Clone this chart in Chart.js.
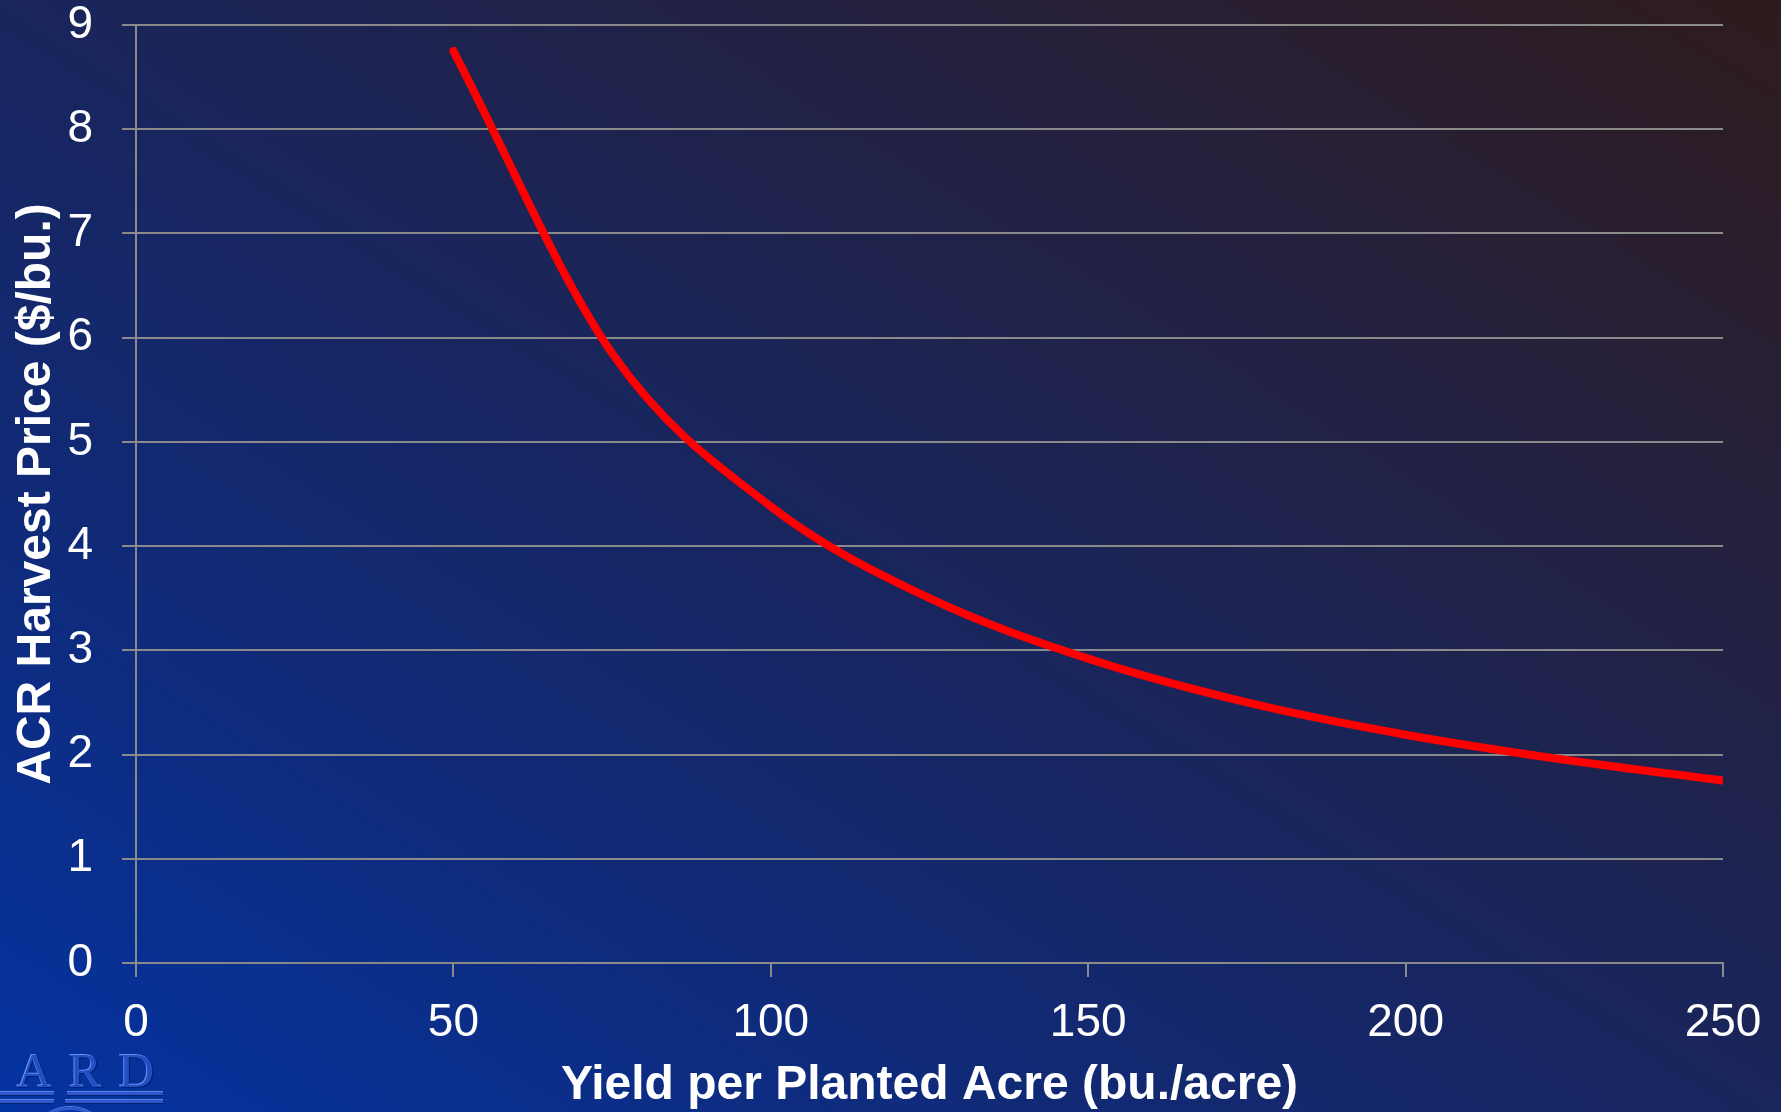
<!DOCTYPE html>
<html>
<head>
<meta charset="utf-8">
<title>ACR Harvest Price vs. Yield</title>
<script src="https://cdn.jsdelivr.net/npm/chart.js@4.4.1/dist/chart.umd.min.js"></script>
<style>
  html, body {
    margin: 0;
    padding: 0;
    width: 1781px;
    height: 1112px;
    overflow: hidden;
  }
  body {
    position: relative;
    background: linear-gradient(to top right, #0434a2 0%, #102a78 28%, #1b2456 55%, #26203a 78%, #2e1b1c 100%);
  }
  #chart {
    position: absolute;
    left: 0;
    top: 0;
  }
  /* embossed CARD mark in the lower-left corner */
  .mark {
    position: absolute;
    left: 0;
    top: 0;
    width: 0;
    height: 0;
  }
  .mark .word {
    position: absolute;
    left: -33px;
    top: 1046px;
    font-family: "Liberation Serif", "DejaVu Serif", serif;
    font-size: 49px;
    letter-spacing: 17px;
    line-height: 49px;
    white-space: nowrap;
    color: #2250c2;
    text-shadow: -1px -1px 0 #6a90ee, 1px 1px 1px #04206e;
  }
  .mark .bar {
    position: absolute;
    height: 3px;
    background: #2c58cc;
    box-shadow: 0 1px 1px #04206e, 0 -1px 0 #5c84e8;
  }
  .mark .arc {
    position: absolute;
    left: 28px;
    top: 1107px;
    width: 84px;
    height: 40px;
    border-top: 3px solid #2c58cc;
    border-radius: 42px 42px 0 0;
    box-shadow: 0 -1px 0 #5c84e8;
  }
</style>
</head>
<body>
<canvas id="chart" width="1781" height="1112"></canvas>
<div class="mark">
  <div class="word">CARD</div>
  <div class="bar" style="top:1092px; left:0; width:54px;"></div>
  <div class="bar" style="top:1092px; left:67px; width:96px;"></div>
  <div class="bar" style="top:1100px; left:0; width:54px;"></div>
  <div class="bar" style="top:1100px; left:65px; width:98px;"></div>
  <div class="arc"></div>
</div>
<script>
// Yield (bu./acre) and the ACR harvest price ($/bu.) at which a payment is triggered
const yields = [50, 75, 100, 125, 150, 175, 200, 225, 250];
const prices = [8.75, 5.85, 4.38, 3.50, 2.92, 2.50, 2.19, 1.95, 1.75];

const xTitle = 'Yield per Planted Acre (bu./acre)';
const yTitle = 'ACR Harvest Price ($/bu.)';

const FONT = '"Liberation Sans", Arial, Helvetica, sans-serif';
const AXIS_GREY = '#8a8a8a';

const points = yields.map((x, i) => ({ x: x, y: prices[i] }));

new Chart(document.getElementById('chart'), {
  type: 'line',
  data: {
    datasets: [{
      data: points,
      borderColor: '#ff0000',
      borderWidth: 8,
      borderCapStyle: 'round',
      borderJoinStyle: 'round',
      pointRadius: 0,
      fill: false,
      cubicInterpolationMode: 'monotone'
    }]
  },
  options: {
    responsive: false,
    animation: false,
    devicePixelRatio: 1,
    layout: { padding: { top: 25, right: 58, left: 0, bottom: 0 } },
    plugins: {
      legend: { display: false },
      tooltip: { enabled: false }
    },
    scales: {
      x: {
        type: 'linear',
        min: 0,
        max: 250,
        ticks: {
          stepSize: 50,
          color: '#ffffff',
          padding: 19,
          font: { family: FONT, size: 46 }
        },
        grid: {
          drawOnChartArea: false,
          drawTicks: true,
          tickLength: 14,
          color: AXIS_GREY,
          lineWidth: 2
        },
        border: { color: AXIS_GREY, width: 2 },
        title: {
          display: true,
          text: xTitle,
          color: '#ffffff',
          font: { family: FONT, size: 48, weight: 'bold', lineHeight: 1.0 },
          padding: { top: 0, bottom: 2 }
        },
        afterFit(scale) {
          scale.height = 149;
          scale.paddingRight = 0;
        }
      },
      y: {
        min: 0,
        max: 9,
        ticks: {
          stepSize: 1,
          color: '#ffffff',
          padding: 29,
          font: { family: FONT, size: 46 }
        },
        grid: {
          drawTicks: true,
          tickLength: 14,
          color: AXIS_GREY,
          lineWidth: 2
        },
        border: { color: AXIS_GREY, width: 2 },
        title: {
          display: true,
          text: yTitle,
          color: '#ffffff',
          font: { family: FONT, size: 48, weight: 'bold' },
          padding: { top: 8, bottom: 0 }
        },
        afterFit(scale) {
          scale.width = 136;
          // the plot top is fixed by the layout padding alone
          scale.paddingTop = 0;
          scale.paddingBottom = 0;
        }
      }
    }
  }
});
</script>
</body>
</html>
